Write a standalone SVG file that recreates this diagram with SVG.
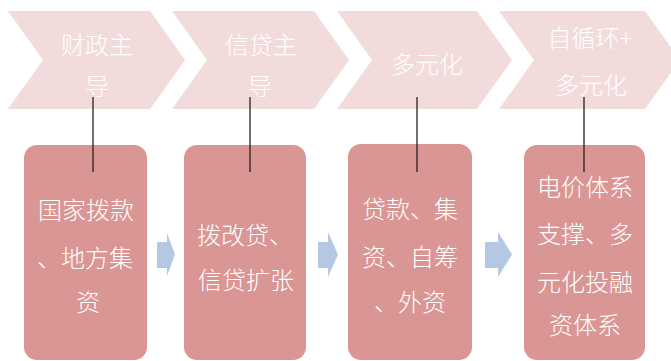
<svg xmlns="http://www.w3.org/2000/svg" width="671" height="361" viewBox="0 0 671 361">
<style>
.chev{fill:#F2DCDB}
.box{fill:#D99694}
.arr{fill:#B4C7E3}
.t{font-family:"Noto Sans CJK SC","Noto Sans",sans-serif;font-size:24px;font-weight:300;fill:#FFFFFF;text-anchor:middle;dominant-baseline:central}
.ln{stroke:#222222;stroke-width:1.3;fill:none}
</style>
<g id="stage1">
<polygon class="chev" points="8,11 150,11 185,60 150,109 8,109 43,60"/>
<text class="t" x="97" y="43">财政主</text>
<text class="t" x="97" y="84">导</text>
</g>
<g id="stage2">
<polygon class="chev" points="172,11 314,11 349,60 314,109 172,109 207,60"/>
<text class="t" x="261" y="43">信贷主</text>
<text class="t" x="260" y="84">导</text>
</g>
<g id="stage3">
<polygon class="chev" points="337,11 477,11 512,60 477,109 337,109 372,60"/>
<text class="t" x="427" y="62">多元化</text>
</g>
<g id="stage4">
<polygon class="chev" points="499,11 645,11 680,60 645,109 499,109 534,60"/>
<text class="t" x="590" y="36">自循环+</text>
<text class="t" x="591" y="83">多元化</text>
</g>
<g id="box1">
<rect class="box" x="24" y="145" width="123" height="215" rx="13"/>
<text class="t" x="86" y="208">国家拨款</text>
<text class="t" x="85" y="256">、地方集</text>
<text class="t" x="88" y="300">资</text>
</g>
<g id="box2">
<rect class="box" x="184" y="145" width="122" height="215" rx="13"/>
<text class="t" x="245" y="233">拨改贷、</text>
<text class="t" x="246" y="278">信贷扩张</text>
</g>
<g id="box3">
<rect class="box" x="348" y="144" width="124" height="216" rx="13"/>
<text class="t" x="410" y="207">贷款、集</text>
<text class="t" x="410" y="255">资、自筹</text>
<text class="t" x="410" y="300">、外资</text>
</g>
<g id="box4">
<rect class="box" x="524" y="145" width="121" height="215" rx="13"/>
<text class="t" x="585" y="185">电价体系</text>
<text class="t" x="585" y="232">支撑、多</text>
<text class="t" x="585" y="280">元化投融</text>
<text class="t" x="585" y="323">资体系</text>
</g>
<g id="connectors">
<line class="ln" x1="93" y1="97" x2="93" y2="172"/>
<line class="ln" x1="250" y1="97" x2="250" y2="172"/>
<line class="ln" x1="417" y1="97" x2="417" y2="172"/>
<line class="ln" x1="584" y1="97" x2="584" y2="172"/>
<polygon class="arr" points="157,242 167,242 167,233 175,254.5 167,276 167,268 157,268"/>
<polygon class="arr" points="318,242 328,242 328,232 338,254.5 328,277 328,268 318,268"/>
<polygon class="arr" points="485,242 498,242 498,232 512,254.5 498,277 498,268 485,268"/>
</g>
</svg>
